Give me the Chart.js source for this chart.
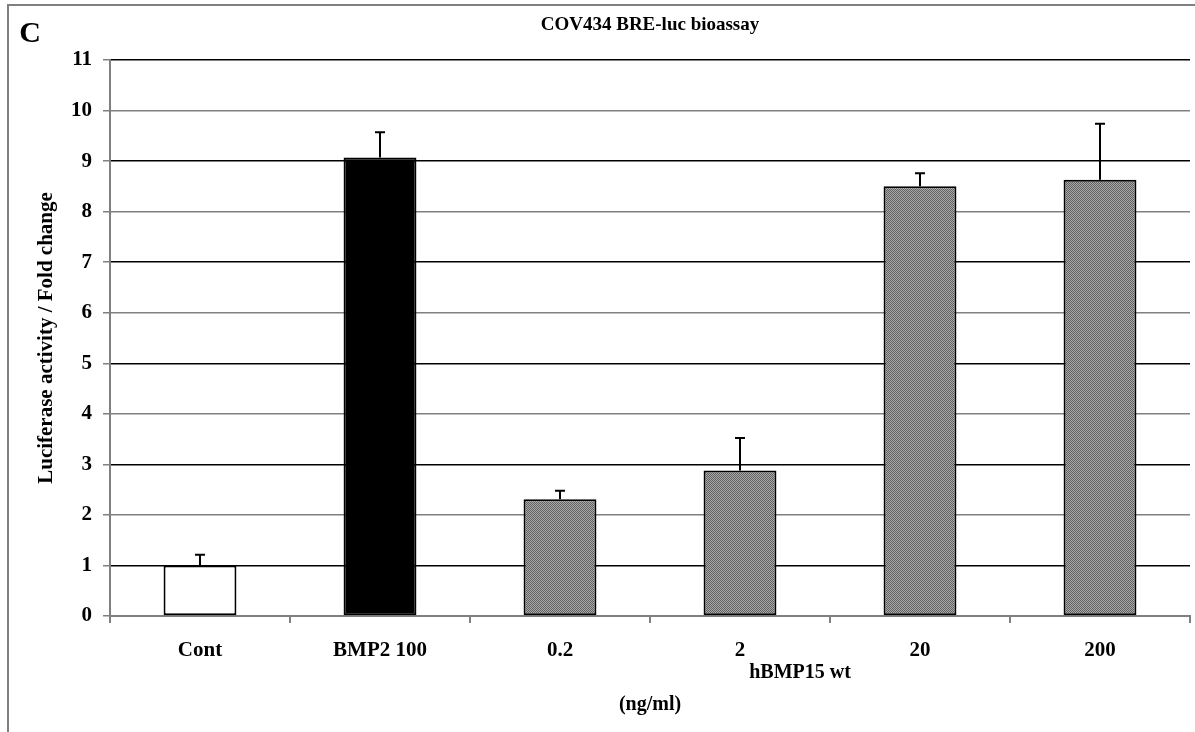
<!DOCTYPE html>
<html>
<head>
<meta charset="utf-8">
<script src="https://cdn.jsdelivr.net/npm/chart.js@4/dist/chart.umd.min.js"></script>
<style>
  body { margin: 0; background: #fff; }
  #wrap { width: 1195px; height: 732px; }
</style>
</head>
<body>
<div id="wrap"><canvas id="chart" width="1195" height="732"></canvas></div>
<script>
const categories = ['Cont', 'BMP2 100', '0.2', '2', '20', '200'];
const foldChange = [1.0, 9.07, 2.31, 2.88, 8.50, 8.63];
const errorUp = [0.21, 0.50, 0.17, 0.64, 0.26, 1.11];
const yMin = 0;
const yMax = 11;
const fontFamily = '"Liberation Serif", "Times New Roman", serif';

// small grey dither like the original print
function makeHatch() {
    const c = document.createElement('canvas');
    c.width = 4;
    c.height = 4;
    const g = c.getContext('2d');
    g.fillStyle = '#a8a8a8';
    g.fillRect(0, 0, 4, 4);
    g.fillStyle = '#626262';
    for (let i = 0; i < 4; i++) {
        g.fillRect(i, i, 1, 1);
        g.fillRect((i + 2) % 4, i, 1, 1);
    }
    return g.createPattern(c, 'repeat');
}
const hatch = makeHatch();
const barFills = ['#ffffff', '#000000', hatch, hatch, hatch, hatch];

const errorBars = {
    id: 'errorBars',
    afterDatasetsDraw(chart) {
        const ctx = chart.ctx;
        const y = chart.scales.y;
        const meta = chart.getDatasetMeta(0);
        ctx.save();
        ctx.strokeStyle = '#000';
        ctx.lineWidth = 2;
        meta.data.forEach((bar, i) => {
            const x = Math.round(bar.x);
            const y0 = y.getPixelForValue(foldChange[i]);
            const y1 = y.getPixelForValue(foldChange[i] + errorUp[i]);
            ctx.beginPath();
            ctx.moveTo(x, y0);
            ctx.lineTo(x, y1);
            ctx.moveTo(x - 5, y1);
            ctx.lineTo(x + 5, y1);
            ctx.stroke();
        });
        ctx.restore();
    }
};

const extras = {
    id: 'extras',
    afterDraw(chart) {
        const ctx = chart.ctx;
        ctx.save();
        // frame
        ctx.strokeStyle = '#808080';
        ctx.lineWidth = 2;
        ctx.beginPath();
        ctx.moveTo(8, 732);
        ctx.lineTo(8, 5);
        ctx.lineTo(1195, 5);
        ctx.stroke();
        ctx.fillStyle = '#000';
        ctx.textBaseline = 'middle';
        ctx.textAlign = 'center';
        ctx.font = 'bold 30px ' + fontFamily;
        ctx.fillText('C', 30, 34);
        ctx.font = 'bold 20px ' + fontFamily;
        ctx.fillText('hBMP15 wt', 800, 673);
        ctx.fillText('(ng/ml)', 650, 705);
        ctx.restore();
    }
};

new Chart(document.getElementById('chart'), {
    type: 'bar',
    data: {
        labels: categories,
        datasets: [{
            data: foldChange,
            backgroundColor: barFills,
            borderColor: '#000',
            borderWidth: 2,
            borderSkipped: false,
            barPercentage: 0.9,
            categoryPercentage: 0.45
        }]
    },
    options: {
        responsive: false,
        animation: false,
        layout: { padding: { top: 0, right: 5, left: 0, bottom: 0 } },
        plugins: {
            legend: { display: false },
            tooltip: { enabled: false },
            title: {
                display: true,
                fullSize: false,
                text: 'COV434 BRE-luc bioassay',
                color: '#000',
                font: { family: fontFamily, size: 19, weight: 'bold' },
                padding: { top: 14, bottom: 23.2 }
            }
        },
        scales: {
            x: {
                afterFit(scale) { scale.height = 116; },
                grid: {
                    offset: true,
                    drawOnChartArea: false,
                    drawTicks: true,
                    tickLength: 7,
                    color: '#808080',
                    lineWidth: 2
                },
                border: { color: '#808080', width: 2 },
                ticks: {
                    color: '#000',
                    padding: 15,
                    maxRotation: 0,
                    font: { family: fontFamily, size: 21, weight: 'bold' }
                }
            },
            y: {
                min: yMin,
                max: yMax,
                afterFit(scale) { scale.width = 110; },
                grid: {
                    color: ctx => (ctx.tick && ctx.tick.value % 2 === 1) ? '#000' : '#808080',
                    tickColor: '#808080',
                    tickLength: 7,
                    lineWidth: 1.5
                },
                border: { color: '#808080', width: 2 },
                ticks: {
                    stepSize: 1,
                    color: '#000',
                    padding: 11,
                    font: { family: fontFamily, size: 21, weight: 'bold' }
                },
                title: {
                    display: true,
                    text: 'Luciferase activity / Fold change',
                    color: '#000',
                    padding: { top: 34, bottom: 0 },
                    font: { family: fontFamily, size: 21, weight: 'bold' }
                }
            }
        }
    },
    plugins: [errorBars, extras]
});
</script>
</body>
</html>
